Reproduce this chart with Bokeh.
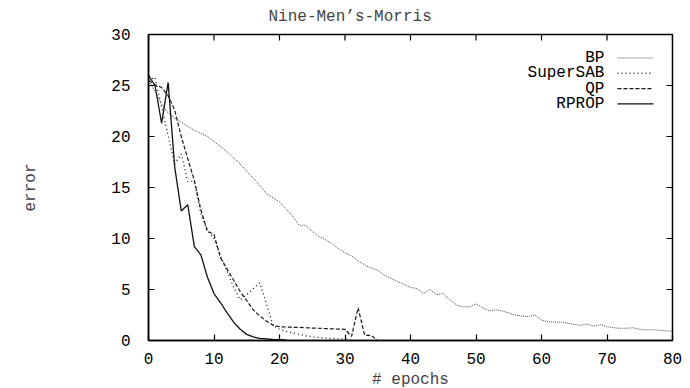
from bokeh.plotting import figure
from bokeh.models import LinearAxis, FixedTicker, Title
from bokeh.core.properties import value
from bokeh.embed import file_html
from bokeh.resources import INLINE

title_text = "Nine-Men’s-Morris"
x_label = "# epochs"
y_label = "error"
x_ticks = [0, 10, 20, 30, 40, 50, 60, 70, 80]
y_ticks = [0, 5, 10, 15, 20, 25, 30]
series_names = ["BP", "SuperSAB", "QP", "RPROP"]

bp_x = list(range(0, 81))
bp_y = [25.6, 24.4, 23.2, 22.3, 21.8, 21.4, 21.0, 20.6, 20.3, 20.0,
        19.5, 19.0, 18.5, 17.9, 17.3, 16.6, 15.9, 15.2, 14.4, 14.0,
        13.6, 12.9, 12.2, 11.3, 11.3, 10.7, 10.2, 9.9, 9.5, 9.0,
        8.6, 8.3, 7.8, 7.4, 7.1, 6.9, 6.4, 6.1, 5.8, 5.5,
        5.2, 5.1, 4.6, 5.0, 4.5, 4.6, 4.0, 3.5, 3.3, 3.3,
        3.6, 3.2, 2.9, 3.0, 2.9, 2.7, 2.5, 2.4, 2.35, 2.5,
        2.0, 1.85, 1.8, 1.8, 1.7, 1.57, 1.5, 1.6, 1.4, 1.55,
        1.35, 1.25, 1.2, 1.2, 1.25, 1.1, 1.05, 1.05, 1.0, 0.95,
        0.9]

supersab_x = list(range(0, 32))
supersab_y = [25.5, 25.8, 22.9, 20.1, 17.3, 18.3, 15.6, 15.6, 12.4, 10.8,
              10.0, 8.3, 6.8, 5.2, 4.0, 4.5, 5.1, 5.65, 3.6, 1.5,
              1.1, 0.9, 0.75, 0.6, 0.45, 0.38, 0.3, 0.25, 0.2, 0.18,
              0.15, 0.0]

qp_x = list(range(0, 36))
qp_y = [25.5, 25.1, 24.8, 24.0, 22.6, 20.0, 17.8, 15.7, 12.8, 10.7,
        10.4, 8.1, 7.0, 5.9, 4.8, 3.9, 3.0, 2.4, 1.9, 1.5,
        1.35, 1.32, 1.3, 1.28, 1.25, 1.22, 1.2, 1.17, 1.14, 1.12,
        1.1, 0.4, 3.2, 0.5, 0.5, 0.0]

rprop_x = list(range(0, 22))
rprop_y = [26.0, 25.0, 21.3, 25.3, 17.0, 12.7, 13.3, 9.2, 8.4, 6.2,
           4.6, 3.7, 2.7, 1.8, 1.1, 0.6, 0.35, 0.2, 0.15, 0.1,
           0.08, 0.05]

FONT = "Liberation Mono"
X_MAX, Y_MAX = 80, 30
FRAME_W, FRAME_H = 524, 306
TICK_PX = 6

styles = {
    "BP": dict(line_color="#3a3a3a", line_width=0.9, line_dash="1 1"),
    "SuperSAB": dict(line_color="#1a1a1a", line_width=1.3, line_dash="1 3"),
    "QP": dict(line_color="#1a1a1a", line_width=1.2, line_dash="4 2"),
    "RPROP": dict(line_color="#111111", line_width=1.3, line_dash="solid"),
}

p = figure(frame_width=FRAME_W, frame_height=FRAME_H,
           x_range=(0, X_MAX), y_range=(0, Y_MAX),
           output_backend="svg", toolbar_location=None,
           min_border_left=148, min_border_right=10,
           min_border_top=34, min_border_bottom=47,
           x_axis_type=None, y_axis_type=None)
p.grid.visible = False
p.outline_line_color = "black"
p.outline_line_width = 1.5
p.background_fill_color = "white"
p.border_fill_color = "white"


def style_axis(ax, ticks):
    ax.ticker = FixedTicker(ticks=ticks)
    ax.major_tick_in = TICK_PX
    ax.major_tick_out = 0
    ax.minor_tick_line_color = None
    ax.axis_line_color = "black"
    ax.axis_line_width = 1.5
    ax.major_tick_line_width = 1.2
    ax.major_label_text_font = FONT
    ax.major_label_text_font_size = "16px"
    ax.major_label_text_color = "black"
    ax.axis_label_text_font = FONT
    ax.axis_label_text_font_style = "normal"
    ax.axis_label_text_font_size = "16px"


xb = LinearAxis(axis_label=x_label)
style_axis(xb, x_ticks)
xb.major_label_standoff = 12
xb.axis_label_standoff = 4
p.add_layout(xb, "below")

yl = LinearAxis(axis_label=y_label)
style_axis(yl, y_ticks)
yl.major_label_standoff = 18
yl.axis_label_standoff = 68
p.add_layout(yl, "left")

# mirrored inward ticks on the top and right edges
dy = TICK_PX * Y_MAX / FRAME_H
dx = TICK_PX * X_MAX / FRAME_W
p.segment(x0=x_ticks, y0=[Y_MAX] * len(x_ticks),
          x1=x_ticks, y1=[Y_MAX - dy] * len(x_ticks),
          line_color="black", line_width=1.2)
p.segment(x0=[X_MAX] * len(y_ticks), y0=y_ticks,
          x1=[X_MAX - dx] * len(y_ticks), y1=y_ticks,
          line_color="black", line_width=1.2)

t = Title(text=title_text, text_font=FONT, text_font_size="16px",
          text_font_style="normal", align="left", offset=120,
          standoff=13, vertical_align="top")
p.add_layout(t, "above")

data = {
    "BP": (bp_x, bp_y),
    "SuperSAB": (supersab_x, supersab_y),
    "QP": (qp_x, qp_y),
    "RPROP": (rprop_x, rprop_y),
}
for name in series_names:
    xs, ys = data[name]
    p.line(xs, ys, **styles[name])

# legend (label right-aligned, sample to its right)
leg_text_x = 69.6
leg_line_x0 = 71.6
leg_line_x1 = 77.1
leg_rows = [27.7, 26.2, 24.7, 23.2]
for name, ly in zip(series_names, leg_rows):
    p.text(x=[leg_text_x], y=[ly], text=[name], text_align="right",
           text_baseline="middle", text_font=value(FONT),
           text_font_size="16px", text_color="black")
    p.line([leg_line_x0, leg_line_x1], [ly, ly], **styles[name])

open("out.html", "w").write(file_html(p, INLINE))
